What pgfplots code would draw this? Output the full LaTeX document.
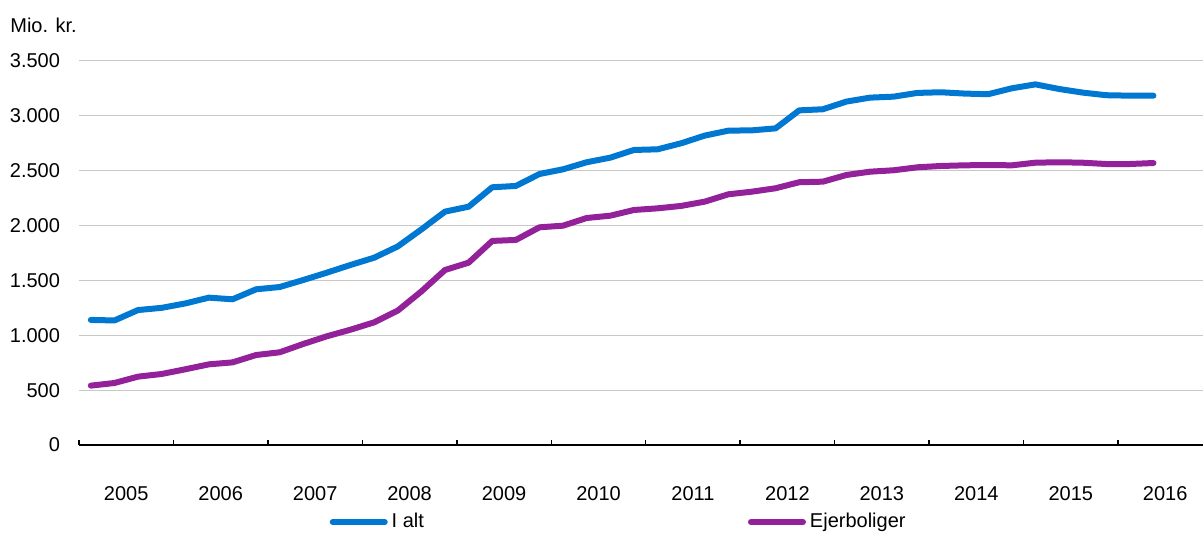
\documentclass[border=0pt]{standalone}
\usepackage{fontspec}
\setmainfont{Liberation Sans}
\usepackage{pgfplots}
\pgfplotsset{compat=1.18}
\definecolor{ialt}{RGB}{0,120,210}
\definecolor{ejer}{RGB}{147,33,154}
\definecolor{gridgray}{RGB}{200,200,200}

% quarterly values, 2005Q1 = 0
\pgfplotstableread{
q ialt ejer
0 1140 541
1 1135 565
2 1230 623
3 1250 647
4 1290 690
5 1343 735
6 1328 753
7 1419 820
8 1440 845
9 1504 921
10 1571 991
11 1641 1051
12 1707 1118
13 1810 1225
14 1965 1400
15 2127 1595
16 2172 1662
17 2349 1860
18 2361 1869
19 2470 1984
20 2513 1999
21 2577 2069
22 2619 2090
23 2689 2142
24 2695 2157
25 2750 2179
26 2820 2218
27 2865 2285
28 2868 2309
29 2886 2340
30 3050 2395
31 3060 2400
32 3130 2461
33 3166 2491
34 3175 2504
35 3209 2531
36 3215 2543
37 3203 2549
38 3197 2552
39 3251 2549
40 3287 2573
41 3245 2577
42 3212 2573
43 3188 2561
44 3184 2561
45 3184 2570
}\datatable

\begin{document}
\begin{tikzpicture}
\path[use as bounding box] (-39.5pt,-44pt) rectangle (562pt,222.5pt);
\begin{axis}[
  at={(0,0)}, anchor=south west,
  scale only axis,
  width=562pt, height=192pt,
  xmin=-0.5, xmax=47.1,
  ymin=0, ymax=3500,
  ytick={0,500,...,3500},
  /pgf/number format/1000 sep={.},
  /pgf/number format/assume math mode=true,
  yticklabel style={xshift=-6pt},
  xtick={1.5,5.5,...,45.5},
  xticklabels={2005,2006,2007,2008,2009,2010,2011,2012,2013,2014,2015,2016},
  xticklabel style={yshift=-17pt},
  major x tick style={draw=none},
  minor xtick={-0.5,3.5,...,43.5},
  minor x tick style={black, line width=0.75pt},
  minor tick length=2.5pt,
  tick align=inside,
  xtick pos=bottom,
  ytick style={draw=none},
  ymajorgrids,
  major grid style={gridgray, line width=0.5pt},
  separate axis lines,
  axis x line*=bottom,
  axis y line*=left,
  x axis line style={black, line width=0.75pt, -},
  y axis line style={draw=none},
  clip=false,
  legend columns=2,
  legend style={draw=none, fill=none, at={(0.481,-0.2005)}, anchor=center,
    /tikz/every even column/.append style={column sep=160pt},
    font=\fontsize{10}{12}\selectfont},
  legend image code/.code={\draw[#1, line width=3pt, line cap=round] (0pt,0pt) -- (26pt,0pt);},
  tick label style={font=\fontsize{10}{12}\selectfont},
]
\addplot[ialt, line width=3pt, line join=round, line cap=round] table[x=q, y=ialt] {\datatable};
\addlegendentry{I alt}
\addplot[ejer, line width=3pt, line join=round, line cap=round] table[x=q, y=ejer] {\datatable};
\addlegendentry{Ejerboliger}
\end{axis}
\node[anchor=base west, inner sep=0, font=\fontsize{10}{12}\selectfont] at (-34.5pt,206pt) {Mio. kr.};
\end{tikzpicture}
\end{document}
